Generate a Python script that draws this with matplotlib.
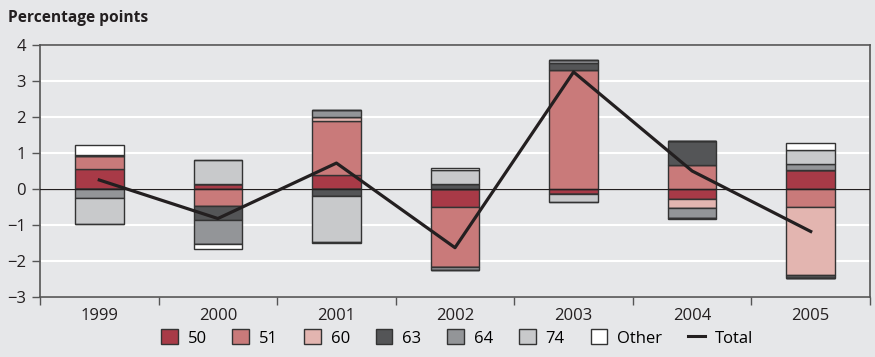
import matplotlib
matplotlib.use("Agg")
import matplotlib.pyplot as plt
import numpy as np
from matplotlib.patches import Patch
from matplotlib.lines import Line2D

plt.rcParams['font.family'] = ['Open Sans', 'DejaVu Sans']

years = ["1999", "2000", "2001", "2002", "2003", "2004", "2005"]
series_names = ["50", "51", "60", "63", "64", "74", "Other"]
s50 = [0.55, 0.13, 0.39, -0.50, -0.15, -0.29, 0.52]
s51 = [0.36, -0.46, 1.50, -1.67, 3.30, 0.66, -0.49]
s60 = [0.00, 0.00, 0.12, 0.00, 0.00, -0.23, -1.91]
s63 = [0.03, -0.39, -0.19, 0.13, 0.21, 0.68, -0.07]
s64 = [-0.24, -0.67, 0.19, -0.08, 0.07, -0.28, 0.17]
s74 = [-0.74, 0.68, -1.29, 0.39, -0.20, 0.00, 0.40]
s_other = [0.28, -0.14, -0.03, 0.07, 0.00, -0.04, 0.20]
total = [0.25, -0.82, 0.72, -1.63, 3.25, 0.50, -1.18]

colors = ["#a83a47", "#c97a7a", "#e3b5b0", "#545557", "#939598", "#c8c9cb", "#ffffff"]
bg = "#e6e7e9"
edge = "#333333"

fig = plt.figure(figsize=(8.75, 3.57), dpi=100, facecolor=bg)
ax = fig.add_axes([40/875, 60/357, 830/875, 252/357], facecolor=bg)

x = np.arange(len(years))
series = [s50, s51, s60, s63, s64, s74, s_other]
pos_base = np.zeros(len(years))
neg_base = np.zeros(len(years))
for name, vals, c in zip(series_names, series, colors):
    v = np.array(vals)
    pos = np.where(v > 0, v, 0)
    neg = np.where(v < 0, v, 0)
    ax.bar(x, pos, 0.41, bottom=pos_base, color=c, edgecolor=edge, linewidth=1.0, zorder=3)
    ax.bar(x, neg, 0.41, bottom=neg_base, color=c, edgecolor=edge, linewidth=1.0, zorder=3)
    pos_base += pos
    neg_base += neg

ax.plot(x, total, color="#231f20", linewidth=2.3, zorder=5)
ax.axhline(0, color="#231f20", linewidth=0.9, zorder=4)

ax.set_xlim(-0.5, len(years) - 0.5)
ax.set_ylim(-3, 4)
ax.set_yticks(range(-3, 5))
ax.set_yticklabels([f"{v}".replace("-", "\u2212") for v in range(-3, 5)])
ax.yaxis.grid(True, color="white", linewidth=1.5, zorder=0)
ax.set_axisbelow(True)

ax.set_xticks(x)
ax.set_xticklabels(years)
ax.set_xticks(np.arange(-0.5, len(years)), minor=True)
ax.tick_params(axis="x", which="major", length=0, labelsize=12, pad=8, colors="#231f20")
ax.tick_params(axis="x", which="minor", length=6, width=1, color="#555555", direction="out")
ax.tick_params(axis="y", length=6, width=1, color="#555555", labelsize=12, pad=4)
for lbl in ax.get_yticklabels():
    lbl.set_color("#231f20")
for sp in ax.spines.values():
    sp.set_color("#555555")
    sp.set_linewidth(1.2)

fig.text(8/875, 1 - 18/357, "Percentage points", fontsize=11.2, fontweight="bold",
         color="#231f20", va="center", ha="left")

handles = [Patch(facecolor=c, edgecolor=edge, linewidth=1.0, label=n) for n, c in zip(series_names, colors)]
handles.append(Line2D([0], [0], color="#231f20", linewidth=2.2, label="Total"))
leg = fig.legend(handles=handles, loc="center", bbox_to_anchor=(457/875, 1 - 338/357), ncol=8,
                 frameon=False, fontsize=12, handlelength=1.0, handleheight=1.0,
                 handletextpad=0.6, columnspacing=1.55)

fig.savefig("out.png", dpi=100, facecolor=bg)
